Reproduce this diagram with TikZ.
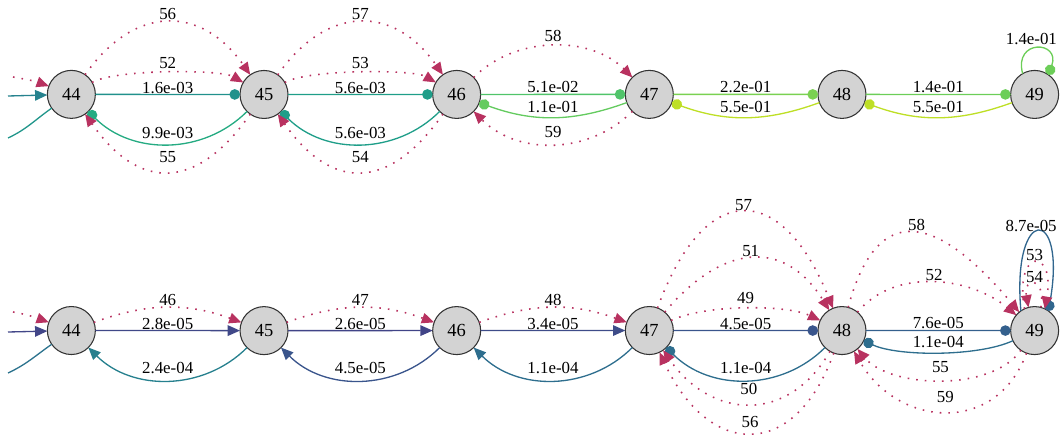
\documentclass[tikz,border=0pt]{standalone}
\usepackage{fontspec}
\setmainfont{Liberation Serif}
\usepackage{tikz}
\usetikzlibrary{matrix,arrows.meta}

\definecolor{hopred}{RGB}{184,50,96}
\definecolor{nodegray}{RGB}{211,211,211}
\definecolor{tinA}{RGB}{38,130,142}
\definecolor{toutA}{RGB}{33,150,139}
\definecolor{tA}{RGB}{33,145,140}
\definecolor{tB}{RGB}{37,171,130}
\definecolor{tC}{RGB}{31,158,137}
\definecolor{tD}{RGB}{80,196,106}
\definecolor{tE}{RGB}{100,203,95}
\definecolor{tF}{RGB}{122,209,81}
\definecolor{tG}{RGB}{190,223,38}
\definecolor{tH}{RGB}{108,206,88}
\definecolor{binA}{RGB}{66,70,136}
\definecolor{boutA}{RGB}{44,115,142}
\definecolor{bA}{RGB}{64,72,136}
\definecolor{bB}{RGB}{38,128,142}
\definecolor{bC}{RGB}{65,68,135}
\definecolor{bD}{RGB}{58,85,140}
\definecolor{bE}{RGB}{62,76,137}
\definecolor{bF}{RGB}{46,110,142}
\definecolor{bG}{RGB}{52,96,141}
\definecolor{bH}{RGB}{49,102,142}

\begin{document}
\begin{tikzpicture}[
  stnode/.style={circle, draw=black!80, fill=nodegray, line width=0.6pt, minimum size=0.96cm, inner sep=0pt, outer sep=0pt, font=\fontsize{10.5}{12}\selectfont},
  lbl/.style={font=\fontsize{9.6}{11}\selectfont, inner sep=1pt},
  flowline/.style={line width=0.75pt},
  dothead/.style={-{Circle[length=6pt]}},
  trihead/.style={-{Triangle[length=7pt,width=6pt]}},
  hop/.style={draw=hopred, line width=0.9pt, dash pattern=on 0.9pt off 4pt, -{Triangle[length=7pt,width=6pt]}}
  ]
  \useasboundingbox (0,0) rectangle (21.22,-8.70);
  \matrix (m) [matrix of nodes, nodes={stnode}, row sep=3.74cm, column sep=2.872cm] at (11.06,-4.25)
  {
44 & 45 & 46 & 47 & 48 & 49 \\
44 & 45 & 46 & 47 & 48 & 49 \\
};
  \coordinate (tl-hop) at (0.26,-1.54);
  \coordinate (tl-in) at (0.16,-1.92);
  \coordinate (tl-out) at (0.16,-2.76);
  \coordinate (bl-hop) at (0.26,-6.24);
  \coordinate (bl-in) at (0.16,-6.64);
  \coordinate (bl-out) at (0.16,-7.46);

  % upper chain
  \path
  (tl-hop) edge[hop, out=-10, in=160] (m-1-1)
  (tl-in) edge[flowline, draw=tinA, trihead] (m-1-1)
  (m-1-1) edge[flowline, draw=toutA, out=-145, in=25] (tl-out)
  (m-1-1) edge[flowline, draw=tA, dothead] node[lbl, above=-1pt] {1.6e-03} (m-1-2)
  (m-1-2) edge[flowline, draw=tB, dothead, out=-135, in=-45] node[lbl, above=2pt] {9.9e-03} (m-1-1)
  (m-1-1) edge[hop, out=30, in=150, looseness=0.45] node[lbl, above=0.5pt] {52} (m-1-2)
  (m-1-1) edge[hop, out=55, in=125, looseness=1.33] node[lbl, above=0pt] {56} (m-1-2)
  (m-1-2) edge[hop, out=-125, in=-55, looseness=1.46] node[lbl, above=4pt] {55} (m-1-1)
  (m-1-2) edge[flowline, draw=tC, dothead] node[lbl, above=-1pt] {5.6e-03} (m-1-3)
  (m-1-3) edge[flowline, draw=tC, dothead, out=-135, in=-45] node[lbl, above=2pt] {5.6e-03} (m-1-2)
  (m-1-2) edge[hop, out=30, in=150, looseness=0.45] node[lbl, above=0.5pt] {53} (m-1-3)
  (m-1-2) edge[hop, out=55, in=125, looseness=1.33] node[lbl, above=0pt] {57} (m-1-3)
  (m-1-3) edge[hop, out=-125, in=-55, looseness=1.46] node[lbl, above=4pt] {54} (m-1-2)
  (m-1-3) edge[flowline, draw=tD, dothead] node[lbl, above=-0.5pt] {5.1e-02} (m-1-4)
  (m-1-4) edge[flowline, draw=tE, dothead, out=-160, in=-20] node[lbl, above=1.3pt] {1.1e-01} (m-1-3)
  (m-1-3) edge[hop, out=45, in=135, looseness=0.96] node[lbl, above=1pt] {58} (m-1-4)
  (m-1-4) edge[hop, out=-135, in=-45] node[lbl, above=2.5pt] {59} (m-1-3)
  (m-1-4) edge[flowline, draw=tF, dothead] node[lbl, above=-0.5pt] {2.2e-01} (m-1-5)
  (m-1-5) edge[flowline, draw=tG, dothead, out=-160, in=-20] node[lbl, above=1.3pt] {5.5e-01} (m-1-4)
  (m-1-5) edge[flowline, draw=tH, dothead] node[lbl, above=-0.5pt] {1.4e-01} (m-1-6)
  (m-1-6) edge[flowline, draw=tG, dothead, out=-160, in=-20] node[lbl, above=1.3pt] {5.5e-01} (m-1-5)
  (m-1-6.120) edge[flowline, draw=tH, dothead, out=105, in=70, looseness=3.6] node[lbl, above=0.5pt, xshift=-3pt] {1.4e-01} (m-1-6.55)
  ;

  % lower chain
  \path
  (bl-hop) edge[hop, out=-10, in=160] (m-2-1)
  (bl-in) edge[flowline, draw=binA, trihead] (m-2-1)
  (m-2-1) edge[flowline, draw=boutA, out=-145, in=25] (bl-out)
  (m-2-1) edge[flowline, draw=bA, trihead] node[lbl, above=-1pt] {2.8e-05} (m-2-2)
  (m-2-2) edge[flowline, draw=bB, trihead, out=-135, in=-45] node[lbl, above=2.5pt] {2.4e-04} (m-2-1)
  (m-2-1) edge[hop, out=20, in=160] node[lbl, above=-0.5pt] {46} (m-2-2)
  (m-2-2) edge[flowline, draw=bC, trihead] node[lbl, above=-1pt] {2.6e-05} (m-2-3)
  (m-2-3) edge[flowline, draw=bD, trihead, out=-135, in=-45] node[lbl, above=2.5pt] {4.5e-05} (m-2-2)
  (m-2-2) edge[hop, out=20, in=160] node[lbl, above=-0.5pt] {47} (m-2-3)
  (m-2-3) edge[flowline, draw=bE, trihead] node[lbl, above=-1pt] {3.4e-05} (m-2-4)
  (m-2-4) edge[flowline, draw=bF, trihead, out=-135, in=-45] node[lbl, above=2.5pt] {1.1e-04} (m-2-3)
  (m-2-3) edge[hop, out=20, in=160] node[lbl, above=-0.5pt] {48} (m-2-4)
  (m-2-4) edge[flowline, draw=bD, dothead] node[lbl, above=-1pt] {4.5e-05} (m-2-5)
  (m-2-5) edge[flowline, draw=bF, dothead, out=-135, in=-45] node[lbl, above=2.5pt] {1.1e-04} (m-2-4)
  (m-2-4) edge[hop, out=25, in=155, looseness=0.65] node[lbl, above=1pt] {49} (m-2-5)
  (m-2-4) edge[hop, out=50, in=122, looseness=1.35] node[lbl, above=-0.5pt] {51} (m-2-5)
  (m-2-4) edge[hop, out=70, in=112, looseness=2] node[lbl, above=-0.5pt] {57} (m-2-5)
  (m-2-5) edge[hop, out=-120, in=-55, looseness=1.29] node[lbl, above=4pt] {50} (m-2-4)
  (m-2-5) edge[hop, out=-110, in=-65, looseness=1.7] node[lbl, above=1.5pt] {56} (m-2-4)
  (m-2-5) edge[flowline, draw=bG, dothead] node[lbl, above=-0.5pt] {7.6e-05} (m-2-6)
  (m-2-6) edge[flowline, draw=bF, dothead, out=-155, in=-25, looseness=0.65] node[lbl, above=1.3pt] {1.1e-04} (m-2-5)
  (m-2-5) edge[hop, out=50, in=140, looseness=0.95] node[lbl, above=-0.5pt] {52} (m-2-6)
  (m-2-5) edge[hop, out=75, in=130, looseness=1.77] node[lbl, above=-0.5pt] {58} (m-2-6)
  (m-2-6) edge[hop, out=-125, in=-50, looseness=0.8] node[lbl, above=3pt] {55} (m-2-5)
  (m-2-6) edge[hop, out=-110, in=-60, looseness=1.3] node[lbl, above=3.5pt] {59} (m-2-5)
  (m-2-6.125) edge[flowline, draw=bH, dothead, out=95, in=80, looseness=10] node[lbl, above=-1.5pt, xshift=-4pt] {8.7e-05} (m-2-6.55)
  (m-2-6.115) edge[hop, out=100, in=80, looseness=7.9] node[lbl, above=-0.5pt] {53} (m-2-6.65)
  (m-2-6.75) edge[hop, out=80, in=100, looseness=6.5] node[lbl, above=-0.5pt] {54} (m-2-6.105)
  ;
\end{tikzpicture}
\end{document}
